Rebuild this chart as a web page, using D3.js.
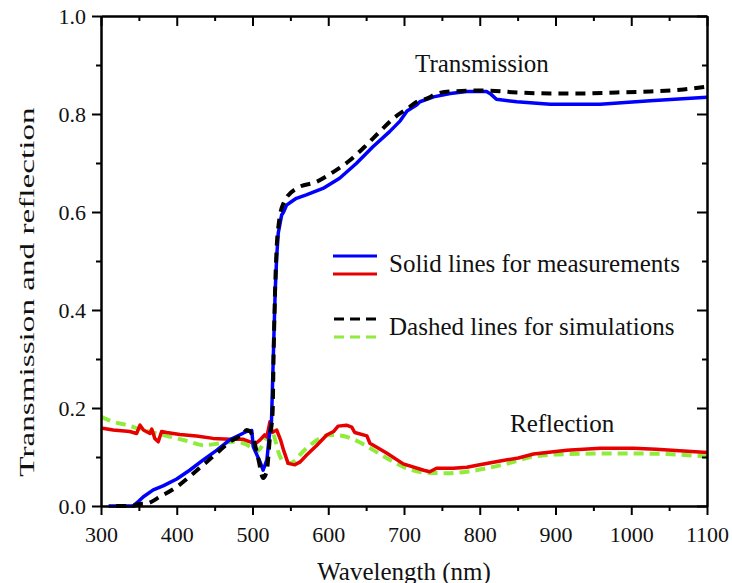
<!DOCTYPE html>
<html>
<head>
 <meta charset="UTF-8">
 <title>Transmission and reflection</title>
 <script src="https://d3js.org/d3.v7.min.js"></script>
 <style>
  body { margin: 0; background: #fff; }
  text { font-family: "Liberation Serif", "Times New Roman", serif; fill: #111; }
 </style>
</head>
<body>
<script type="text/javascript">
// measured transmission (blue, solid)
var measTX = [310, 342, 350, 356, 369, 382, 400, 417, 435, 453, 470, 483, 492, 499, 501, 510, 514, 519, 523, 525, 527.5, 530, 532, 534, 538.5, 541, 545, 554, 558, 571, 593, 615, 637, 659, 681, 695, 704, 717, 721, 739, 761, 783, 809, 815, 822, 849, 893, 959, 1025, 1100];
var measTY = [0, 0, 0.010, 0.019, 0.033, 0.041, 0.055, 0.073, 0.094, 0.114, 0.135, 0.145, 0.152, 0.154, 0.121, 0.090, 0.073, 0.094, 0.155, 0.17, 0.305, 0.44, 0.51, 0.557, 0.594, 0.600, 0.614, 0.624, 0.628, 0.635, 0.648, 0.669, 0.699, 0.733, 0.764, 0.786, 0.806, 0.819, 0.825, 0.835, 0.842, 0.846, 0.846, 0.840, 0.830, 0.825, 0.820, 0.820, 0.827, 0.834];
// simulated transmission (black, dashed)
var simTX = [320, 341, 351, 360, 378, 400, 417, 435, 453, 470, 488, 492, 497, 501, 508, 514, 519, 523, 526.5, 528, 530, 532, 535, 541, 558, 585, 607, 629, 646, 668, 686, 708, 717, 734, 739, 761, 805, 849, 893, 937, 981, 1025, 1069, 1100];
var simTY = [0, 0, 0.004, 0.005, 0.019, 0.039, 0.060, 0.084, 0.108, 0.131, 0.148, 0.155, 0.152, 0.138, 0.094, 0.057, 0.073, 0.141, 0.19, 0.32, 0.45, 0.53, 0.58, 0.618, 0.648, 0.662, 0.682, 0.706, 0.730, 0.764, 0.791, 0.815, 0.825, 0.834, 0.839, 0.846, 0.848, 0.844, 0.842, 0.842, 0.844, 0.846, 0.850, 0.856];
// measured reflection (red, solid)
var measRX = [300, 316, 338, 347, 351.5, 356, 364.7, 367, 371, 375.6, 380, 386.7, 404, 426, 448, 470, 488, 497, 503, 510, 516, 519, 523, 526, 532, 537, 541, 547, 556, 563, 571.5, 585, 598, 607, 613, 624, 631, 635, 651, 655, 677, 699, 726, 734, 743, 765, 783, 800, 827, 851, 871, 915, 959, 1003, 1033, 1064, 1100];
var measRY = [0.159, 0.155, 0.152, 0.148, 0.165, 0.155, 0.148, 0.157, 0.138, 0.131, 0.152, 0.150, 0.146, 0.143, 0.138, 0.136, 0.136, 0.131, 0.126, 0.135, 0.145, 0.141, 0.172, 0.150, 0.155, 0.135, 0.114, 0.087, 0.084, 0.090, 0.104, 0.124, 0.145, 0.152, 0.163, 0.165, 0.161, 0.150, 0.143, 0.128, 0.108, 0.086, 0.073, 0.070, 0.077, 0.077, 0.079, 0.084, 0.092, 0.098, 0.106, 0.114, 0.118, 0.118, 0.116, 0.113, 0.109];
// simulated reflection (green, dashed)
var simRX = [300, 316, 334, 351.5, 373, 395, 417.5, 435, 457, 475, 488, 497, 505.5, 512, 519, 524, 528, 534, 541, 549.5, 556, 563, 580, 602, 615.5, 637.6, 659.5, 681.5, 703.6, 730, 756, 783, 809, 840, 871, 915, 959, 1003, 1047, 1091, 1100];
var simRY = [0.182, 0.172, 0.165, 0.157, 0.148, 0.140, 0.131, 0.124, 0.128, 0.131, 0.128, 0.121, 0.112, 0.121, 0.141, 0.153, 0.145, 0.111, 0.090, 0.088, 0.092, 0.105, 0.129, 0.145, 0.144, 0.133, 0.114, 0.094, 0.077, 0.068, 0.067, 0.070, 0.077, 0.088, 0.101, 0.106, 0.107, 0.107, 0.106, 0.102, 0.101];

var xMajor = [300, 400, 500, 600, 700, 800, 900, 1000, 1100];
var xMinor = [350, 450, 550, 650, 750, 850, 950, 1050];
var yMajor = [0, 0.2, 0.4, 0.6, 0.8, 1.0];
var yMinor = [0.1, 0.3, 0.5, 0.7, 0.9];

var legendLabels = ["Solid lines for measurements", "Dashed lines for simulations"];

var width = 732;
var height = 583;
var plotLeft = 101, plotRight = 707, plotTop = 16, plotBottom = 506;

var svg = d3.select('body').append('svg')
      .attr('width', width)
      .attr('height', height);

var x = d3.scaleLinear().domain([300, 1100]).range([plotLeft, plotRight]);
var y = d3.scaleLinear().domain([0, 1]).range([plotBottom, plotTop]);

function zip(xs, ys) {
  return xs.map(function (d, i) { return [d, ys[i]]; });
}

var line = d3.line()
    .x(function (d) { return x(d[0]); })
    .y(function (d) { return y(d[1]); });
var smooth = d3.line()
    .curve(d3.curveMonotoneX)
    .x(function (d) { return x(d[0]); })
    .y(function (d) { return y(d[1]); });

var plot = svg.append('g');
plot.append('path').datum(zip(simRX, simRY)).attr('d', smooth)
    .attr('fill', 'none').attr('stroke', '#8fec3c').attr('stroke-width', 4).attr('stroke-dasharray', '10,6');
plot.append('path').datum(zip(measRX, measRY)).attr('d', line)
    .attr('fill', 'none').attr('stroke', '#e60000').attr('stroke-width', 3.5).attr('stroke-linejoin', 'round');
plot.append('path').datum(zip(measTX, measTY)).attr('d', line)
    .attr('fill', 'none').attr('stroke', '#0000ff').attr('stroke-width', 3.5).attr('stroke-linejoin', 'round');
plot.append('path').datum(zip(simTX, simTY)).attr('d', smooth)
    .attr('fill', 'none').attr('stroke', '#000').attr('stroke-width', 4).attr('stroke-dasharray', '10,7');

// axes: bottom/left ticks outward, top/right inward
function styleAxis(g) {
  g.select('.domain').attr('stroke', '#000').attr('stroke-width', 2);
  g.selectAll('.tick line').attr('stroke', '#000').attr('stroke-width', 2);
  g.selectAll('text').style('font-size', '22px').attr('fill', '#111')
    .style('font-family', '"Liberation Serif", "Times New Roman", serif');
}

svg.append('g').attr('transform', 'translate(0,' + plotBottom + ')')
   .call(d3.axisBottom(x).tickValues(xMinor).tickSize(5).tickFormat('').tickSizeOuter(0))
   .call(styleAxis);
svg.append('g').attr('transform', 'translate(0,' + plotBottom + ')')
   .call(d3.axisBottom(x).tickValues(xMajor).tickSize(9).tickPadding(11).tickSizeOuter(0).tickFormat(d3.format('d')))
   .call(styleAxis);

svg.append('g').attr('transform', 'translate(0,' + plotTop + ')')
   .call(d3.axisTop(x).tickValues(xMinor).tickSize(-5).tickFormat('').tickSizeOuter(0))
   .call(styleAxis);
svg.append('g').attr('transform', 'translate(0,' + plotTop + ')')
   .call(d3.axisTop(x).tickValues(xMajor).tickSize(-10).tickFormat('').tickSizeOuter(0))
   .call(styleAxis);

svg.append('g').attr('transform', 'translate(' + plotLeft + ',0)')
   .call(d3.axisLeft(y).tickValues(yMinor).tickSize(5).tickFormat('').tickSizeOuter(0))
   .call(styleAxis);
svg.append('g').attr('transform', 'translate(' + plotLeft + ',0)')
   .call(d3.axisLeft(y).tickValues(yMajor).tickSize(9).tickPadding(6).tickSizeOuter(0).tickFormat(d3.format('.1f')))
   .call(styleAxis);

svg.append('g').attr('transform', 'translate(' + plotRight + ',0)')
   .call(d3.axisRight(y).tickValues(yMinor).tickSize(-5).tickFormat('').tickSizeOuter(0))
   .call(styleAxis);
svg.append('g').attr('transform', 'translate(' + plotRight + ',0)')
   .call(d3.axisRight(y).tickValues(yMajor).tickSize(-10).tickFormat('').tickSizeOuter(0))
   .call(styleAxis);

// axis titles
svg.append('text').attr('x', (plotLeft + plotRight) / 2).attr('y', 580)
   .attr('text-anchor', 'middle').style('font-size', '25px').text('Wavelength (nm)');
// the y title in the original is stretched along its length
svg.append('text').attr('transform', 'translate(34,292) rotate(-90) scale(1.62,1)')
   .attr('text-anchor', 'middle').style('font-size', '20.5px')
   .text('Transmission and reflection');

// curve labels
svg.append('text').attr('x', 415).attr('y', 72).style('font-size', '25px').text('Transmission');
svg.append('text').attr('x', 510).attr('y', 432).style('font-size', '25px').text('Reflection');

// legend
var legend = svg.append('g');
legend.append('line').attr('x1', 333).attr('x2', 377).attr('y1', 256).attr('y2', 256)
      .attr('stroke', '#0000ff').attr('stroke-width', 3);
legend.append('line').attr('x1', 333).attr('x2', 377).attr('y1', 274).attr('y2', 274)
      .attr('stroke', '#e60000').attr('stroke-width', 3);
legend.append('line').attr('x1', 334).attr('x2', 377).attr('y1', 319).attr('y2', 319)
      .attr('stroke', '#000').attr('stroke-width', 3).attr('stroke-dasharray', '10,6');
legend.append('line').attr('x1', 334).attr('x2', 377).attr('y1', 337).attr('y2', 337)
      .attr('stroke', '#8fec3c').attr('stroke-width', 3).attr('stroke-dasharray', '10,6');
legend.append('text').attr('x', 389).attr('y', 272).style('font-size', '25px').text(legendLabels[0]);
legend.append('text').attr('x', 389).attr('y', 335).style('font-size', '25px').text(legendLabels[1]);
</script>
</body>
</html>
